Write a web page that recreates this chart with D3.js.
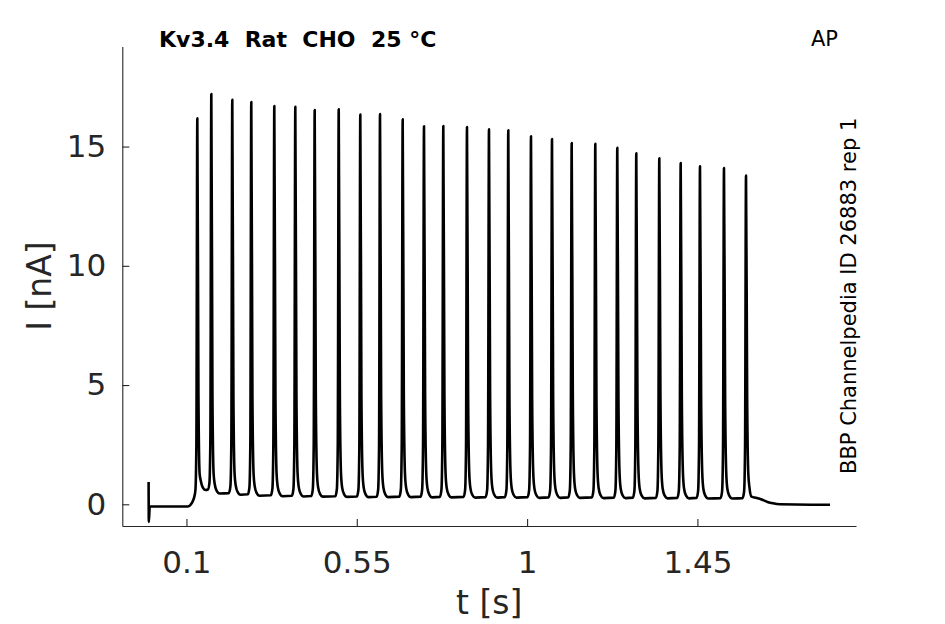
<!DOCTYPE html>
<html>
<head>
<meta charset="utf-8">
<script src="https://cdn.jsdelivr.net/npm/d3@7"></script>
<style>
  body { margin: 0; background: #fff; }
  svg { display: block; font-family: "DejaVu Sans", sans-serif; }
</style>
</head>
<body>
<svg id="chart"></svg>
<script>
// spike peak times (s) and amplitudes (nA)
const spikeTimes = [0.1287, 0.1657, 0.2211, 0.2713, 0.3321, 0.3876, 0.4388, 0.5023, 0.5593,
  0.6114, 0.6713, 0.7276, 0.7786, 0.8412, 0.8993, 0.9503, 1.0103, 1.0658, 1.1178, 1.1802,
  1.2383, 1.2885, 1.3493, 1.4058, 1.4568, 1.5202, 1.5784];
const spikePeaks = [16.18, 17.20, 16.96, 16.87, 16.70, 16.67, 16.53, 16.56, 16.34,
  16.36, 16.14, 15.85, 15.86, 15.82, 15.72, 15.68, 15.43, 15.32, 15.15, 15.12,
  14.95, 14.72, 14.51, 14.31, 14.17, 14.10, 13.78];
// current between spikes (nA), one per gap
const troughs = [0.6, 0.45, 0.4, 0.36, 0.34, 0.33, 0.32, 0.31, 0.3, 0.3, 0.3, 0.29, 0.29,
  0.28, 0.28, 0.28, 0.27, 0.27, 0.27, 0.26, 0.26, 0.25, 0.25, 0.25, 0.24, 0.24];
// trace before the first spike and after the last one
const leadIn = [[0, 0.93], [0.0006, -0.74], [0.003, -0.09], [0.104, -0.09],
  [0.112, 0.0], [0.118, 0.18], [0.1205, 0.3]];
const tail = [[1.593, 0.32], [1.605, 0.27], [1.6197, 0.2], [1.635, 0.1],
  [1.6496, 0.04], [1.668, 0.0], [1.75, -0.02], [1.8003, -0.02]];

const xTicks = [0.1, 0.55, 1, 1.45];
const yTicks = [0, 5, 10, 15];

const width = 945, height = 624;
const svg = d3.select("#chart").attr("width", width).attr("height", height);

const x = d3.scaleLinear().domain([-0.0695, 1.869]).range([122.3, 856]);
const y = d3.scaleLinear().domain([-0.91, 19.2]).range([526, 46.4]);

// stitch the trace together
const trace = leadIn.slice();
spikeTimes.forEach((t, i) => {
  const lo0 = i === 0 ? 0.3 : troughs[i - 1];
  const lo1 = i < troughs.length ? troughs[i] : 0.32;
  const p = spikePeaks[i];
  if (i > 0) trace.push([t - 0.009, lo0 + 0.02]);
  trace.push([t - 0.005, lo0 + 0.3], [t - 0.0025, lo0 + 2.2], [t, p],
    [t + 0.003, 4.5], [t + 0.006, 1.3], [t + 0.009, lo1 + 0.4]);
  if (i < troughs.length) {
    trace.push([t + 0.014, lo1 + 0.12], [t + 0.022, lo1]);
  }
});
tail.forEach(d => trace.push(d));

const line = d3.line()
  .x(d => x(d[0]))
  .y(d => y(d[1]))
  .curve(d3.curveMonotoneX);

svg.append("path")
  .datum(trace)
  .attr("fill", "none")
  .attr("stroke", "#000")
  .attr("stroke-width", 2.6)
  .attr("stroke-linejoin", "round")
  .attr("d", line);

// axes
const axisColor = "#262626";
const gx = svg.append("g")
  .attr("transform", "translate(0,526)")
  .call(d3.axisBottom(x).tickValues(xTicks).tickFormat(d3.format("")).tickSizeInner(-7).tickSizeOuter(0).tickPadding(25));
const gy = svg.append("g")
  .attr("transform", "translate(122.3,0)")
  .call(d3.axisLeft(y).tickValues(yTicks).tickSizeInner(-7).tickSizeOuter(0).tickPadding(16));

[gx, gy].forEach(g => {
  g.select(".domain").attr("stroke", axisColor).attr("stroke-width", 1.1);
  g.selectAll(".tick line").attr("stroke", axisColor).attr("stroke-width", 1.1);
  g.selectAll(".tick text")
    .attr("fill", axisColor)
    .style("font-family", "DejaVu Sans")
    .style("font-size", "31px");
});

svg.append("text")
  .attr("x", 489.2).attr("y", 614)
  .attr("text-anchor", "middle")
  .attr("fill", axisColor)
  .style("font-size", "33px")
  .text("t [s]");

svg.append("text")
  .attr("transform", "translate(51,286) rotate(-90)")
  .attr("text-anchor", "middle")
  .attr("fill", axisColor)
  .style("font-size", "33px")
  .text("I [nA]");

svg.append("text")
  .attr("x", 159).attr("y", 47)
  .style("font-size", "22px")
  .style("font-weight", "bold")
  .style("white-space", "pre")
  .text("Kv3.4  Rat  CHO  25 °C");

svg.append("text")
  .attr("x", 811).attr("y", 46)
  .style("font-size", "21px")
  .text("AP");

svg.append("text")
  .attr("transform", "translate(856,474) rotate(-90)")
  .style("font-size", "21px")
  .text("BBP Channelpedia ID 26883 rep 1");
</script>
</body>
</html>
